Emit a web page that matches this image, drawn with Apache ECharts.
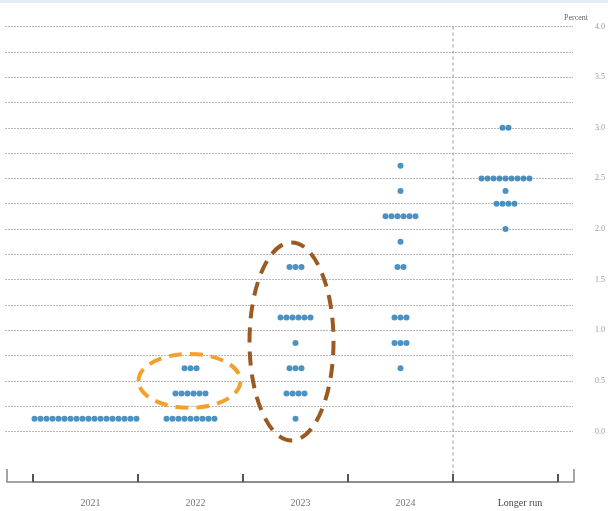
<!DOCTYPE html>
<html>
<head>
<meta charset="utf-8">
<script src="https://cdn.jsdelivr.net/npm/echarts@6/dist/echarts.min.js"></script>
<style>html,body{margin:0;padding:0;background:#fff}#c{width:608px;height:511px}</style>
</head>
<body>
<div id="c"></div>
<script>
// ---- data ----
const categories = ['2021', '2022', '2023', '2024', 'Longer run'];
// [rate (percent), number of participants]
const dots2021 = [[0.125, 18]];
const dots2022 = [[0.125, 9], [0.375, 6], [0.625, 3]];
const dots2023 = [[0.125, 1], [0.375, 4], [0.625, 3], [0.875, 1], [1.125, 6], [1.625, 3]];
const dots2024 = [[0.625, 1], [0.875, 3], [1.125, 3], [1.625, 2], [1.875, 1], [2.125, 6], [2.375, 1], [2.625, 1]];
const dotsLonger = [[2.0, 1], [2.25, 4], [2.375, 1], [2.5, 9], [3.0, 2]];
const yLabelValues = [0, 0.5, 1, 1.5, 2, 2.5, 3, 3.5, 4];

const dotRows = [dots2021, dots2022, dots2023, dots2024, dotsLonger];
const DOT_SPACING = 6;
const scatterData = [];
dotRows.forEach((rows, ci) => {
  rows.forEach(([rate, n]) => {
    for (let j = 0; j < n; j++) {
      scatterData.push({ value: [ci, rate], symbolOffset: [(j - (n - 1) / 2) * DOT_SPACING, 0] });
    }
  });
});

const serif = '"Liberation Serif", "DejaVu Serif", serif';
const chart = echarts.init(document.getElementById('c'), null, { renderer: 'canvas' });
const TOP = 26.5, BOTTOM = 79.5, AXIS_OFFSET = 50.5;

chart.setOption({
  animation: false,
  title: {
    text: 'Percent', left: 559, top: 9,
    textStyle: { fontFamily: serif, fontSize: 8, fontWeight: 'normal', color: '#666' }
  },
  grid: [
    { left: 5, right: 33, top: TOP, bottom: BOTTOM },
    { left: 33, right: 50, top: TOP, bottom: BOTTOM },
    { left: 7, right: 34, top: TOP, bottom: BOTTOM }
  ],
  xAxis: [
    { gridIndex: 0, type: 'value', min: 0, max: 1, show: false },
    {
      gridIndex: 1, type: 'category', data: categories.map(c => ({
        value: c,
        textStyle: c === 'Longer run' ? { padding: [0, 0, 0, 29], color: '#444' } : { padding: [0, 0, 0, 10], color: '#777' }
      })),
      boundaryGap: true, offset: AXIS_OFFSET,
      axisLine: { show: true, onZero: false, lineStyle: { color: '#888', width: 1.5 } },
      axisTick: { show: true, inside: true, length: 8, lineStyle: { color: '#555', width: 2 } },
      axisLabel: { margin: 16, fontFamily: serif, fontSize: 10 },
      splitLine: { show: false }
    },
    {
      gridIndex: 2, type: 'value', min: 0, max: 1, interval: 1, offset: AXIS_OFFSET,
      axisLine: { show: true, onZero: false, lineStyle: { color: '#888', width: 1.5 } },
      axisTick: { show: true, inside: true, length: 13, lineStyle: { color: '#888', width: 1.5 } },
      axisLabel: { show: false }, splitLine: { show: false }
    }
  ],
  yAxis: [
    {
      gridIndex: 0, type: 'value', min: 0, max: 4, interval: 0.25, position: 'right',
      axisLine: { show: false }, axisTick: { show: false },
      axisLabel: {
        margin: 22, fontFamily: serif, fontSize: 8, color: '#999',
        formatter: v => (yLabelValues.some(t => Math.abs(t - v) < 1e-9) ? v.toFixed(1) : '')
      },
      splitLine: { show: true, lineStyle: { color: '#b8b8b8', width: 1, type: [2, 1] } }
    },
    { gridIndex: 1, type: 'value', min: 0, max: 4, show: false },
    { gridIndex: 2, type: 'value', min: 0, max: 4, show: false }
  ],
  series: [{
    type: 'scatter', xAxisIndex: 1, yAxisIndex: 1,
    symbol: 'circle', symbolSize: 6,
    itemStyle: { color: '#1f77b4' },
    data: scatterData
  }]
});

// annotation overlays positioned through the chart's scales
const px = (c, v) => chart.convertToPixel({ gridIndex: 1 }, [c, v]);
const p3 = px(3, 0), p4 = px(4, 0), pTop = px(4, 4);
const xDiv = (p3[0] + p4[0]) / 2;
const axisY = p4[1] + AXIS_OFFSET;
const e1 = px(1, 0.5);
const e2 = px(2, 0.89);
chart.setOption({
  graphic: [
    { type: 'rect', shape: { x: 0, y: 0, width: 608, height: 3 }, style: { fill: '#e2edf8' }, silent: true },
    { type: 'line', shape: { x1: xDiv, y1: pTop[1], x2: xDiv, y2: axisY }, style: { stroke: '#999', lineWidth: 1, lineDash: [3, 3] }, silent: true },
    { type: 'ellipse', shape: { cx: e1[0] - 1, cy: e1[1], rx: 51, ry: 27 }, style: { fill: null, stroke: '#f2a12e', lineWidth: 4, lineDash: [13, 8] }, silent: true },
    { type: 'ellipse', shape: { cx: e2[0] - 4, cy: e2[1], rx: 42, ry: 99 }, style: { fill: null, stroke: '#9a5a22', lineWidth: 4, lineDash: [14, 9] }, silent: true }
  ]
});
</script>
</body>
</html>
